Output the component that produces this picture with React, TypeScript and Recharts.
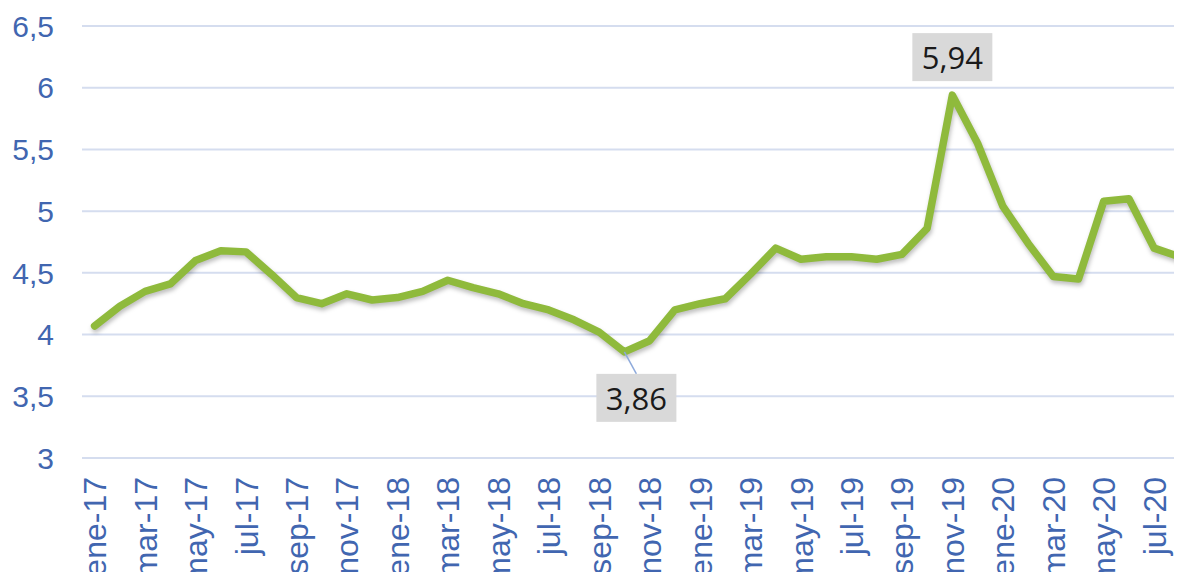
import React from 'react';
import { LineChart, Line, XAxis, YAxis, CartesianGrid, LabelList } from 'recharts';

const months = [
  'ene-17', 'feb-17', 'mar-17', 'abr-17', 'may-17', 'jun-17', 'jul-17', 'ago-17', 'sep-17', 'oct-17', 'nov-17', 'dic-17',
  'ene-18', 'feb-18', 'mar-18', 'abr-18', 'may-18', 'jun-18', 'jul-18', 'ago-18', 'sep-18', 'oct-18', 'nov-18', 'dic-18',
  'ene-19', 'feb-19', 'mar-19', 'abr-19', 'may-19', 'jun-19', 'jul-19', 'ago-19', 'sep-19', 'oct-19', 'nov-19', 'dic-19',
  'ene-20', 'feb-20', 'mar-20', 'abr-20', 'may-20', 'jun-20', 'jul-20', 'ago-20',
];

const values = [
  4.07, 4.23, 4.35, 4.41, 4.6, 4.68, 4.67, 4.49, 4.3, 4.25, 4.33, 4.28,
  4.3, 4.35, 4.44, 4.38, 4.33, 4.25, 4.2, 4.12, 4.02, 3.86, 3.95, 4.2,
  4.25, 4.29, 4.49, 4.7, 4.61, 4.63, 4.63, 4.61, 4.65, 4.86, 5.94, 5.55,
  5.04, 4.74, 4.47, 4.45, 5.08, 5.1, 4.7, 4.63,
];

const yTicks = [3, 3.5, 4, 4.5, 5, 5.5, 6, 6.5];

const data = months.map((m, i) => ({ month: m, pos: i + 0.5, value: values[i] }));

// tick marks sit between months, every two months; labels sit on the month itself
const boundaryTicks = months.map((_, i) => i).filter((i) => i % 2 === 0).concat([months.length]);
const labelTicks = months.map((_, i) => i + 0.5).filter((_, i) => i % 2 === 0);

const minIdx = values.indexOf(Math.min(...values));
const maxIdx = values.indexOf(Math.max(...values));

const blue = '#4166b0';
const grid = '#d5ddef';
const fmt = (v: number) => String(v).replace('.', ',');

const MonthTick = (props: any) => {
  const { x, y, payload } = props;
  return (
    <g transform={`translate(${x},${y})`}>
      <text transform="rotate(-90)" textAnchor="end" dy="0.36em" fill={blue} fontSize={32} fontFamily="'Liberation Sans', Arial, sans-serif">
        {months[Math.floor(payload.value)]}
      </text>
    </g>
  );
};

const BoundaryTick = (props: any) => {
  const { x, y } = props;
  return <line x1={x} x2={x} y1={y} y2={y + 8} stroke={grid} strokeWidth={2} />;
};

const PointLabel = (props: any) => {
  const { x, y, index } = props;
  if (index !== minIdx && index !== maxIdx) return null;
  const text = fmt(values[index]);
  const w = 80;
  const h = 48;
  if (index === minIdx) {
    const cx = x + 12;
    const cy = y + 46;
    return (
      <g>
        <line x1={x} y1={y} x2={x + 12} y2={y + 22} stroke="#8eaadb" strokeWidth={1.5} />
        <rect x={cx - w / 2} y={cy - h / 2} width={w} height={h} fill="#d9d9d9" />
        <text x={cx} y={cy} textAnchor="middle" dominantBaseline="central" fontSize={31} fill="#1a1a1a" fontFamily="'Open Sans', sans-serif">
          {text}
        </text>
      </g>
    );
  }
  const cx = x;
  const cy = y - 38;
  return (
    <g>
      <rect x={cx - w / 2} y={cy - h / 2} width={w} height={h} fill="#d9d9d9" />
      <text x={cx} y={cy} textAnchor="middle" dominantBaseline="central" fontSize={31} fill="#1a1a1a" fontFamily="'Open Sans', sans-serif">
        {text}
      </text>
    </g>
  );
};

export default function App() {
  return (
    <div style={{ width: 1182, height: 580, overflow: 'hidden', margin: -8, background: '#fff' }}>
      <LineChart width={1200} height={600} data={data} margin={{ top: 26, right: 8, left: 0, bottom: 0 }}>
        <CartesianGrid horizontal vertical={false} stroke={grid} strokeWidth={2} />
        <XAxis
          xAxisId="frame"
          dataKey="pos"
          type="number"
          domain={[0, months.length]}
          ticks={boundaryTicks}
          height={0}
          axisLine={{ stroke: grid, strokeWidth: 2 }}
          tickLine={false}
          tickSize={0}
          tickMargin={0}
          tick={<BoundaryTick />}
          interval={0}
        />
        <XAxis
          xAxisId="labels"
          dataKey="pos"
          type="number"
          domain={[0, months.length]}
          ticks={labelTicks}
          height={142}
          axisLine={false}
          tickLine={false}
          tickSize={0}
          tickMargin={19}
          tick={<MonthTick />}
          interval={0}
        />
        <YAxis
          domain={[3, 6.5]}
          ticks={yTicks}
          width={82}
          axisLine={false}
          tickLine={false}
          tickSize={0}
          tickMargin={28}
          tickFormatter={fmt}
          tick={{ fill: blue, fontSize: 30, fontFamily: "'Liberation Sans', Arial, sans-serif" }}
          interval={0}
        />
        <Line
          xAxisId="frame"
          dataKey="value"
          type="linear"
          stroke="#8fba3c"
          strokeWidth={7.5}
          strokeLinejoin="round"
          strokeLinecap="round"
          dot={false}
          activeDot={false}
          isAnimationActive={false}
          style={{ filter: 'drop-shadow(1px 3px 2px rgba(0,0,0,0.25))' }}
        >
          <LabelList dataKey="value" content={<PointLabel />} />
        </Line>
      </LineChart>
    </div>
  );
}
